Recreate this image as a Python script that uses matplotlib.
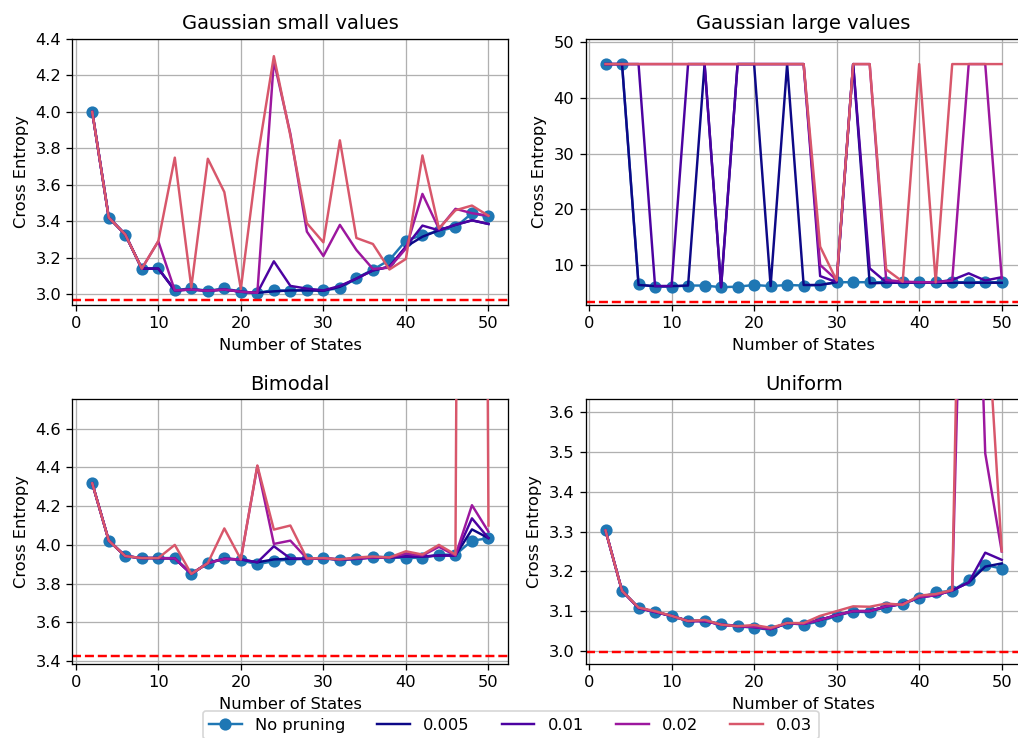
import numpy as np
import matplotlib
matplotlib.use('Agg')
import matplotlib.pyplot as plt

plt.rcParams['font.family'] = ['DejaVu Sans']
plt.rcParams['font.size'] = 10

# x values
States = list(range(2, 52, 2))

Titles = ['Gaussian small values', 'Gaussian large values', 'Bimodal', 'Uniform']
Labels = ['No pruning', '0.005', '0.01', '0.02', '0.03']
Colors = ['#0d0887', '#4c02a1', '#9c179e', '#d8576b']

# Gaussian small values
gs_none = [4.00, 3.42, 3.327, 3.138, 3.141, 3.022, 3.031, 3.018, 3.031, 3.013, 3.007, 3.022, 3.017,
           3.024, 3.022, 3.031, 3.088, 3.134, 3.187, 3.294, 3.323, 3.347, 3.367, 3.444, 3.426]
gs_005 = [4.00, 3.42, 3.327, 3.14, 3.14, 3.02, 3.025, 3.018, 3.025, 3.013, 3.007, 3.015, 3.02,
          3.02, 3.018, 3.04, 3.085, 3.13, 3.15, 3.26, 3.315, 3.35, 3.38, 3.405, 3.385]
gs_01 = [4.00, 3.42, 3.327, 3.14, 3.14, 3.02, 3.025, 3.018, 3.025, 3.013, 3.007, 3.18, 3.045,
         3.03, 3.02, 3.045, 3.085, 3.13, 3.15, 3.26, 3.376, 3.35, 3.38, 3.405, 3.385]
gs_02 = [4.00, 3.42, 3.327, 3.14, 3.29, 3.02, 3.025, 3.018, 3.025, 3.013, 3.007, 4.28, 3.88,
         3.343, 3.209, 3.38, 3.242, 3.138, 3.145, 3.25, 3.55, 3.358, 3.468, 3.444, 3.43]
gs_03 = [4.00, 3.42, 3.327, 3.14, 3.29, 3.749, 3.037, 3.743, 3.56, 3.028, 3.74, 4.306, 3.87,
         3.389, 3.284, 3.844, 3.308, 3.275, 3.135, 3.193, 3.761, 3.36, 3.46, 3.486, 3.43]

# Gaussian large values
gl_none = [46.1, 46.1, 6.5, 6.1, 6.1, 6.3, 6.3, 6.0, 6.1, 6.4, 6.2, 6.4, 6.3,
           6.4, 6.9, 6.9, 6.9, 6.9, 6.9, 6.9, 6.9, 6.9, 6.9, 6.9, 6.9]
gl_005 = [46.1, 46.1, 6.4, 6.2, 6.2, 6.3, 46.1, 6.0, 46.1, 46.1, 6.2, 46.1, 6.4,
          6.4, 6.9, 46.1, 6.7, 6.8, 6.8, 6.8, 6.8, 6.8, 6.8, 6.8, 6.8]
gl_01 = [46.1, 46.1, 46.1, 6.2, 6.2, 46.1, 46.1, 6.0, 46.1, 46.1, 46.1, 46.1, 46.1,
         8.0, 6.9, 46.1, 9.4, 6.9, 6.9, 6.9, 6.9, 7.3, 8.5, 7.2, 7.8]
gl_02 = [46.1, 46.1, 46.1, 46.1, 46.1, 46.1, 46.1, 46.1, 46.1, 46.1, 46.1, 46.1, 46.1,
         10.0, 7.3, 46.1, 46.1, 7.3, 7.0, 6.9, 6.9, 7.2, 46.1, 46.1, 7.6]
gl_03 = [46.1, 46.1, 46.1, 46.1, 46.1, 46.1, 46.1, 46.1, 46.1, 46.1, 46.1, 46.1, 46.1,
         13.3, 7.2, 46.1, 46.1, 9.2, 7.0, 46.1, 6.9, 46.1, 46.1, 46.1, 46.1]

# Bimodal
bm_none = [4.318, 4.022, 3.942, 3.932, 3.932, 3.932, 3.85, 3.906, 3.932, 3.92, 3.90, 3.916, 3.925,
           3.928, 3.932, 3.921, 3.928, 3.94, 3.935, 3.933, 3.933, 3.95, 3.949, 4.022, 4.034]
bm_005 = [4.318, 4.022, 3.942, 3.932, 3.932, 3.93, 3.85, 3.906, 3.928, 3.925, 3.91, 3.925, 3.928,
          3.928, 3.93, 3.925, 3.928, 3.935, 3.935, 3.94, 3.94, 3.945, 3.945, 4.08, 4.035]
bm_01 = [4.318, 4.022, 3.942, 3.932, 3.932, 3.93, 3.85, 3.906, 3.928, 3.925, 3.91, 3.993, 3.93,
         3.928, 3.93, 3.925, 3.928, 3.935, 3.935, 3.94, 3.94, 3.945, 3.945, 4.137, 4.035]
bm_02 = [4.318, 4.022, 3.942, 3.932, 3.932, 3.93, 3.85, 3.906, 3.928, 3.925, 4.407, 4.005, 4.022,
         3.93, 3.93, 3.925, 3.93, 3.935, 3.935, 3.955, 3.945, 3.99, 3.945, 4.205, 4.068]
bm_03 = [4.318, 4.022, 3.942, 3.932, 3.932, 4.0, 3.85, 3.906, 4.085, 3.925, 4.41, 4.079, 4.10,
         3.93, 3.932, 3.925, 3.935, 3.94, 3.935, 3.967, 3.95, 4.0, 3.95, 20.0, 4.10]

# Uniform
un_none = [3.303, 3.151, 3.109, 3.097, 3.088, 3.076, 3.076, 3.068, 3.062, 3.058, 3.053, 3.07, 3.066,
           3.074, 3.088, 3.099, 3.097, 3.111, 3.118, 3.133, 3.147, 3.151, 3.178, 3.216, 3.207]
un_005 = [3.303, 3.151, 3.108, 3.098, 3.088, 3.075, 3.075, 3.066, 3.062, 3.06, 3.055, 3.07, 3.068,
          3.078, 3.09, 3.1, 3.1, 3.112, 3.118, 3.135, 3.14, 3.152, 3.172, 3.212, 3.22]
un_01 = [3.303, 3.151, 3.108, 3.098, 3.088, 3.075, 3.075, 3.066, 3.062, 3.06, 3.055, 3.07, 3.068,
         3.078, 3.09, 3.1, 3.1, 3.112, 3.118, 3.135, 3.14, 3.152, 3.172, 3.247, 3.229]
un_02 = [3.303, 3.151, 3.108, 3.098, 3.088, 3.075, 3.075, 3.066, 3.062, 3.06, 3.055, 3.07, 3.068,
         3.078, 3.09, 3.1, 3.1, 3.112, 3.118, 3.135, 3.14, 3.152, 4.73, 3.497, 3.25]
un_03 = [3.303, 3.151, 3.109, 3.1, 3.088, 3.075, 3.078, 3.066, 3.062, 3.065, 3.058, 3.07, 3.07,
         3.088, 3.1, 3.112, 3.111, 3.119, 3.116, 3.139, 3.143, 3.153, 5.3, 3.93, 3.251]

Optimum = [2.969, 3.3, 3.424, 2.997]
YLims = [(2.94, 4.40), (2.8, 50.6), (3.385, 4.752), (2.967, 3.633)]

NoPruning = [gs_none, gl_none, bm_none, un_none]
Pruned = [[gs_005, gs_01, gs_02, gs_03],
          [gl_005, gl_01, gl_02, gl_03],
          [bm_005, bm_01, bm_02, bm_03],
          [un_005, un_01, un_02, un_03]]

DPI = 117
fig = plt.figure(figsize=(1019 / DPI, 738 / DPI), dpi=DPI)

# axes boxes in figure fractions (left, bottom, width, height)
Boxes = [(0.0711, 0.5867, 0.4277, 0.3604),
         (0.5748, 0.5867, 0.4277, 0.3604),
         (0.0711, 0.1003, 0.4277, 0.3587),
         (0.5748, 0.1003, 0.4277, 0.3587)]

handles = []
for i in range(4):
    ax = fig.add_axes(Boxes[i])
    h0, = ax.plot(States, NoPruning[i], marker='o', markersize=6.5, color='#1f77b4', zorder=2)
    hs = [h0]
    for j in range(4):
        h, = ax.plot(States, Pruned[i][j], color=Colors[j], linewidth=1.5, zorder=3)
        hs.append(h)
    ax.axhline(Optimum[i], color='red', linestyle='--', linewidth=1.5)
    ax.set_ylim(*YLims[i])
    ax.set_xlim(-0.4, 52.4)
    ax.grid(True)
    ax.set_title(Titles[i])
    ax.set_xlabel('Number of States')
    ax.set_ylabel('Cross Entropy')
    if i == 0:
        handles = hs

fig.legend(handles, Labels, loc='upper center', bbox_to_anchor=(0.501, 1 - 703 / 738), ncol=5)

plt.savefig('out.png', dpi=DPI)
